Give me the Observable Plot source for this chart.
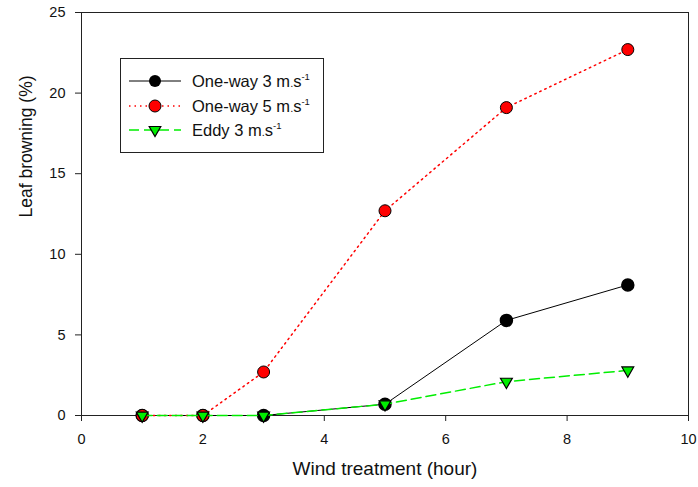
<!DOCTYPE html>
<html>
<head>
<meta charset="utf-8">
<script src="https://cdn.jsdelivr.net/npm/d3@7"></script>
<script src="https://cdn.jsdelivr.net/npm/@observablehq/plot@0.6"></script>
<style>
  html, body { margin: 0; padding: 0; background: #fff; }
  #wrap { position: relative; width: 698px; height: 487px; font-family: "Liberation Sans", Arial, sans-serif; }
  #legend { position: absolute; left: 120px; top: 58px; width: 202px; height: 93px; border: 1px solid #222; background: #fff; }
  .row { position: absolute; left: 0; height: 20px; display: flex; align-items: center; font-size: 16.5px; color: #111; white-space: nowrap; }
  .row svg { margin-left: 8px; margin-right: 11px; }
  .dot { font-size: 11px; }
  sup { font-size: 9.5px; vertical-align: 7px; }
</style>
</head>
<body>
<div id="wrap"></div>
<script>
const hours = [1, 2, 3, 5, 7, 9];
const oneway3 = [0, 0, 0, 0.7, 5.9, 8.1];
const oneway5 = [0, 0, 2.7, 12.7, 19.1, 22.7];
const eddy3 = [0, 0, 0, 0.7, 2.1, 2.8];
const xTicks = [0, 2, 4, 6, 8, 10];
const yTicks = [0, 5, 10, 15, 20, 25];
const seriesNames = ["One-way 3 m", "One-way 5 m", "Eddy 3 m"];

const d1 = hours.map((h, i) => ({x: h, y: oneway3[i]}));
const d2 = hours.map((h, i) => ({x: h, y: oneway5[i]}));
const d3s = hours.map((h, i) => ({x: h, y: eddy3[i]}));

const chart = Plot.plot({
  width: 698,
  height: 487,
  marginLeft: 81,
  marginRight: 10,
  marginTop: 12,
  marginBottom: 72,
  style: {fontFamily: "'Liberation Sans', Arial, sans-serif", fontSize: "14.5px", color: "#111", background: "#fff"},
  x: {domain: [0, 10]},
  y: {domain: [0, 25]},
  marks: [
    Plot.frame({stroke: "#222", strokeWidth: 1}),
    Plot.axisX({ticks: xTicks, tickSize: 6, tickPadding: 12, label: null, fontSize: 14.5, stroke: "#222"}),
    Plot.axisY({ticks: yTicks, tickSize: 6, tickPadding: 10, label: null, fontSize: 14.5, stroke: "#222"}),
    Plot.text(["Wind treatment (hour)"], {frameAnchor: "bottom", dy: 59, fontSize: 19, fill: "#111"}),
    Plot.text(["Leaf browning (%)"], {frameAnchor: "left", dx: -55, dy: 3.5, rotate: -90, fontSize: 17.5, fill: "#111"}),
    Plot.line(d1, {x: "x", y: "y", stroke: "#000", strokeWidth: 1}),
    Plot.dot(d1, {x: "x", y: "y", r: 6, fill: "#000", stroke: "#000"}),
    Plot.line(d2, {x: "x", y: "y", stroke: "#ff0000", strokeWidth: 1.5, strokeDasharray: "1.5,4"}),
    Plot.dot(d2, {x: "x", y: "y", r: 6, fill: "#ff0000", stroke: "#000", strokeWidth: 1}),
    Plot.line(d3s, {x: "x", y: "y", stroke: "#00ee00", strokeWidth: 1.5, strokeDasharray: "10,5"}),
    Plot.dot(d3s, {x: "x", y: "y", r: 4.4, symbol: "triangle", rotate: 180, fill: "#00ee00", stroke: "#000", strokeWidth: 1.2})
  ]
});

const wrap = document.getElementById("wrap");
wrap.appendChild(chart);

const legend = document.createElement("div");
legend.id = "legend";
const samples = [
  `<svg width="52" height="16"><line x1="0" y1="8" x2="52" y2="8" stroke="#000" stroke-width="1"/><circle cx="26" cy="8" r="6" fill="#000"/></svg>`,
  `<svg width="52" height="16"><line x1="0" y1="8" x2="52" y2="8" stroke="#ff0000" stroke-width="1.5" stroke-dasharray="1.5,4"/><circle cx="26" cy="8" r="6" fill="#ff0000" stroke="#000"/></svg>`,
  `<svg width="52" height="16"><line x1="0" y1="8" x2="52" y2="8" stroke="#00ee00" stroke-width="1.5" stroke-dasharray="10,5"/><path d="M20.2,4.5 L31.8,4.5 L26,14.5 Z" fill="#00ee00" stroke="#000" stroke-width="1.2"/></svg>`
];
const tops = [12, 37, 61];
seriesNames.forEach((name, i) => {
  const row = document.createElement("div");
  row.className = "row";
  row.style.top = tops[i] + "px";
  row.innerHTML = samples[i] + `<span>${name}<span class="dot">.</span>s<sup>-1</sup></span>`;
  legend.appendChild(row);
});
wrap.appendChild(legend);
</script>
</body>
</html>
